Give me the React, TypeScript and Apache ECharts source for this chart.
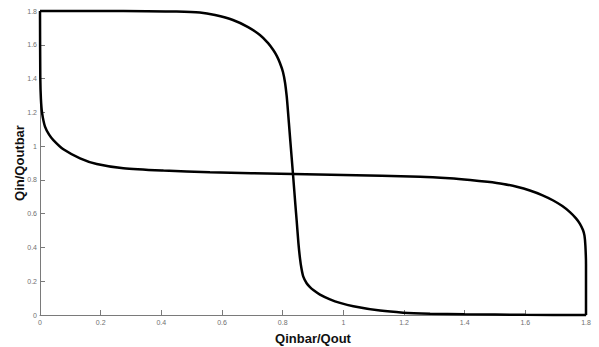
import React, { useEffect, useRef } from "react";
import * as echarts from "echarts";

const curve1X = [0, 0.2, 0.35, 0.45, 0.527, 0.577, 0.636, 0.686, 0.725, 0.752, 0.769, 0.781, 0.791, 0.801, 0.808, 0.813, 0.816, 0.825, 0.834, 0.842, 0.846, 0.852, 0.857, 0.862, 0.868, 0.879, 0.89, 0.901, 0.923, 0.956, 0.989, 1.033, 1.121, 1.197, 1.286, 1.4, 1.6, 1.8];
const curve1Y = [1.8, 1.8, 1.799, 1.797, 1.791, 1.776, 1.747, 1.705, 1.658, 1.61, 1.569, 1.533, 1.492, 1.439, 1.374, 1.3, 1.24, 1.036, 0.835, 0.651, 0.5625, 0.424, 0.337, 0.275, 0.227, 0.188, 0.165, 0.148, 0.121, 0.093, 0.072, 0.052, 0.026, 0.014, 0.008, 0.004, 0.001, 0];

const curve2X = [0, 0.001, 0.003, 0.0066, 0.0165, 0.03, 0.044, 0.077, 0.132, 0.187, 0.275, 0.407, 0.56, 0.835, 1.0, 1.253, 1.35, 1.418, 1.475, 1.527, 1.575, 1.615, 1.655, 1.692, 1.722, 1.747, 1.767, 1.78, 1.79, 1.795, 1.798, 1.8, 1.8];
const curve2Y = [1.8, 1.4, 1.28, 1.2, 1.115, 1.068, 1.036, 0.981, 0.928, 0.894, 0.869, 0.855, 0.845, 0.835, 0.829, 0.819, 0.81, 0.8, 0.789, 0.776, 0.758, 0.737, 0.71, 0.678, 0.645, 0.609, 0.572, 0.54, 0.503, 0.47, 0.41, 0.3, 0];

const xTicks = { min: 0, max: 1.8, interval: 0.2 };
const yTicks = { min: 0, max: 1.8, interval: 0.2 };

const xName = "Qinbar/Qout";
const yName = "Qin/Qoutbar";

export default function App() {
  const ref = useRef<HTMLDivElement>(null);
  useEffect(() => {
    document.body.style.margin = "0";
    if (!ref.current) return;
    const chart = echarts.init(ref.current, null, { renderer: "svg" });
    const axisCommon = {
      type: "value" as const,
      axisLine: { show: true, lineStyle: { color: "#7a7a7a", width: 1 } },
      axisTick: { show: true, inside: true, length: 5, lineStyle: { color: "#7a7a7a", width: 1 } },
      splitLine: { show: false },
      axisLabel: { color: "#707070", fontSize: 7, fontFamily: "Liberation Sans, Arial, sans-serif" },
      nameLocation: "middle" as const,
      nameMoveOverlap: false,
      nameTextStyle: { color: "#111", fontSize: 13, fontWeight: "bold" as const, fontFamily: "Liberation Sans, Arial, sans-serif" },
    };
    chart.setOption({
      animation: false,
      backgroundColor: "#fff",
      grid: { left: 40, right: 13, top: 11, bottom: 32, containLabel: false, outerBoundsMode: "none" },
      xAxis: {
        ...axisCommon,
        ...xTicks,
        name: xName,
        nameGap: 17,
        axisLabel: { ...axisCommon.axisLabel, margin: 4 },
      },
      yAxis: {
        ...axisCommon,
        ...yTicks,
        name: yName,
        nameGap: 14,
        axisLabel: { ...axisCommon.axisLabel, margin: 3 },
      },
      series: [
        {
          type: "line",
          data: curve1X.map((x, i) => [x, curve1Y[i]]),
          showSymbol: false,
          smooth: 0.25,
          clip: false,
          lineStyle: { color: "#000", width: 2.5 },
        },
        {
          type: "line",
          data: curve2X.map((x, i) => [x, curve2Y[i]]),
          showSymbol: false,
          smooth: 0.25,
          clip: false,
          lineStyle: { color: "#000", width: 2.5 },
        },
      ],
    });
    return () => chart.dispose();
  }, []);
  return <div ref={ref} style={{ width: 599, height: 347 }} />;
}
